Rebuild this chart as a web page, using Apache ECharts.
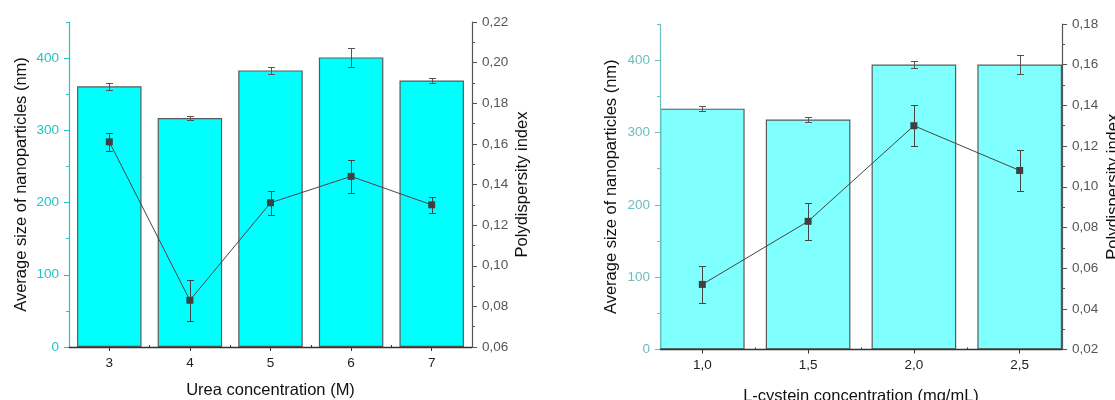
<!DOCTYPE html>
<html><head><meta charset="utf-8">
<script src="https://cdn.jsdelivr.net/npm/echarts@6/dist/echarts.min.js"></script>
<style>html,body{margin:0;padding:0;background:#fff}#c{width:1115px;height:400px}</style>
</head><body><div id="c"></div>
<script>
// ---- Data: urea chart ----
const ureaConc = [3, 4, 5, 6, 7];
const ureaSize = [361, 317, 383, 401, 369];
const ureaSizeErr = [5, 3, 5, 13, 4];
const ureaPdi = [0.161, 0.083, 0.131, 0.144, 0.130];
const ureaPdiErr = [0.0043, 0.010, 0.006, 0.008, 0.004];

// ---- Data: L-cystein chart ----
const cysConc = [1.0, 1.5, 2.0, 2.5];
const cysSize = [333, 318, 394, 394];
const cysSizeErr = [3, 3, 5.5, 13];
const cysPdi = [0.052, 0.083, 0.130, 0.108];
const cysPdiErr = [0.009, 0.009, 0.010, 0.010];

// ---- Tick values ----
const sizeTicks = [0, 100, 200, 300, 400];
const sizeMinorTicks = [50, 150, 250, 350, 450];
const ureaMinorX = [3.5, 4.5, 5.5, 6.5];
const cysMinorX = [1.25, 1.75, 2.25];

const FONT = 'Liberation Sans, Arial, sans-serif';
const chart = echarts.init(document.getElementById('c'), null, {renderer: 'canvas'});

function errRender(color) {
  return function (params, api) {
    const x = api.value(0), y = api.value(1), e = api.value(2);
    const t = api.coord([x, y + e]), b = api.coord([x, y - e]);
    const cx = Math.round(t[0]) + 0.5;
    const ty = Math.round(t[1]) + 0.5, by = Math.round(b[1]) + 0.5;
    const hw = 3.5;
    const style = {stroke: color, lineWidth: 1};
    return {type: 'group', children: [
      {type: 'line', shape: {x1: cx, y1: ty, x2: cx, y2: by}, style},
      {type: 'line', shape: {x1: cx - hw, y1: ty, x2: cx + hw, y2: ty}, style},
      {type: 'line', shape: {x1: cx - hw, y1: by, x2: cx + hw, y2: by}, style}
    ]};
  };
}

const comma = (d) => (v) => v.toFixed(d).replace('.', ',');

function xMajor(grid, min, max, vals, dec, name, gap) {
  return {
    type: 'value', gridIndex: grid, min, max, z: 6,
    name, nameLocation: 'middle', nameGap: gap,
    nameTextStyle: {fontFamily: FONT, fontSize: 16.5, color: '#111'},
    axisLine: {show: true, onZero: false, lineStyle: {color: '#333', width: 1.3}},
    axisTick: {show: true, customValues: vals, length: 4, lineStyle: {color: '#333'}},
    axisLabel: {show: true, customValues: vals, margin: 9, fontFamily: FONT, fontSize: 13.5, color: '#222',
      formatter: dec ? comma(dec) : (v) => String(v)},
    splitLine: {show: false}
  };
}
function xMinor(grid, min, max, vals) {
  return {
    type: 'value', gridIndex: grid, min, max,
    axisLine: {show: false},
    axisTick: {show: true, customValues: vals, length: 2, lineStyle: {color: '#333'}},
    axisLabel: {show: false}, splitLine: {show: false}
  };
}
function ySize(grid, color, name, gap) {
  return {
    type: 'value', gridIndex: grid, position: 'left', min: 0, max: 450, z: 6,
    name, nameLocation: 'middle', nameGap: gap, nameRotate: 90,
    nameTextStyle: {fontFamily: FONT, fontSize: 16.5, color: '#111'},
    axisLine: {show: true, lineStyle: {color, width: 1.2}},
    axisTick: {show: true, customValues: sizeTicks, length: 5, lineStyle: {color}},
    axisLabel: {show: true, customValues: sizeTicks, margin: 10, fontFamily: FONT, fontSize: 13.5, color},
    splitLine: {show: false}
  };
}
function ySizeMinor(grid, color) {
  return {
    type: 'value', gridIndex: grid, position: 'left', min: 0, max: 450,
    axisLine: {show: false},
    axisTick: {show: true, customValues: sizeMinorTicks, length: 3, lineStyle: {color}},
    axisLabel: {show: false}, splitLine: {show: false}
  };
}
function yPdi(grid, min, max, gap) {
  return {
    type: 'value', gridIndex: grid, position: 'right', min, max, interval: 0.02, z: 6,
    name: 'Polydispersity index', nameLocation: 'middle', nameGap: gap, nameRotate: 90,
    nameTextStyle: {fontFamily: FONT, fontSize: 16.5, color: '#111'},
    axisLine: {show: true, lineStyle: {color: '#555', width: 1.2}},
    axisTick: {show: true, length: 5, lineStyle: {color: '#555'}},
    minorTick: {show: true, splitNumber: 2, length: 3, lineStyle: {color: '#555'}},
    axisLabel: {show: true, margin: 10, fontFamily: FONT, fontSize: 13.5, color: '#555', formatter: comma(2)},
    splitLine: {show: false}
  };
}

const pairs = (xs, ys) => xs.map((x, i) => [x, ys[i]]);
const triples = (xs, ys, es) => xs.map((x, i) => [x, ys[i], es[i]]);

chart.setOption({
  animation: false,
  backgroundColor: '#fff',
  grid: [
    {left: 69, top: 22, width: 403, height: 325, outerBoundsMode: 'none', containLabel: false},
    {left: 660, top: 24, width: 402, height: 325.5, outerBoundsMode: 'none', containLabel: false}
  ],
  xAxis: [
    xMajor(0, 2.5, 7.5, ureaConc, 0, 'Urea concentration (M)', 35),
    xMinor(0, 2.5, 7.5, ureaMinorX),
    xMajor(1, 0.8, 2.7, cysConc, 1, 'L-cystein concentration (mg/mL)', 38),
    xMinor(1, 0.8, 2.7, cysMinorX)
  ],
  yAxis: [
    ySize(0, '#22c3c3', 'Average size of nanoparticles (nm)', 39),
    ySizeMinor(0, '#22c3c3'),
    yPdi(0, 0.06, 0.22, 42),
    ySize(1, '#6dbdbd', 'Average size of nanoparticles (nm)', 40.5),
    ySizeMinor(1, '#6dbdbd'),
    yPdi(1, 0.02, 0.18, 43)
  ],
  series: [
    {type: 'bar', xAxisIndex: 0, yAxisIndex: 0, barWidth: '80%', data: pairs(ureaConc, ureaSize),
      itemStyle: {color: '#00ffff', borderColor: '#5a5a5a', borderWidth: 1.2}, z: 2},
    {type: 'custom', xAxisIndex: 0, yAxisIndex: 0, data: triples(ureaConc, ureaSize, ureaSizeErr),
      renderItem: errRender('#555'), clip: false, z: 3},
    {type: 'custom', xAxisIndex: 0, yAxisIndex: 2, data: triples(ureaConc, ureaPdi, ureaPdiErr),
      renderItem: errRender('#444'), clip: false, z: 3},
    {type: 'line', xAxisIndex: 0, yAxisIndex: 2, data: pairs(ureaConc, ureaPdi),
      symbol: 'rect', symbolSize: 7, lineStyle: {color: '#444', width: 1},
      itemStyle: {color: '#404040'}, z: 4},

    {type: 'bar', xAxisIndex: 2, yAxisIndex: 3, barWidth: '80%', data: pairs(cysConc, cysSize),
      itemStyle: {color: '#80ffff', borderColor: '#5a5a5a', borderWidth: 1.2}, z: 2},
    {type: 'custom', xAxisIndex: 2, yAxisIndex: 3, data: triples(cysConc, cysSize, cysSizeErr),
      renderItem: errRender('#555'), clip: false, z: 3},
    {type: 'custom', xAxisIndex: 2, yAxisIndex: 5, data: triples(cysConc, cysPdi, cysPdiErr),
      renderItem: errRender('#444'), clip: false, z: 3},
    {type: 'line', xAxisIndex: 2, yAxisIndex: 5, data: pairs(cysConc, cysPdi),
      symbol: 'rect', symbolSize: 7, lineStyle: {color: '#444', width: 1},
      itemStyle: {color: '#404040'}, z: 4}
  ]
});
</script>
</body></html>
